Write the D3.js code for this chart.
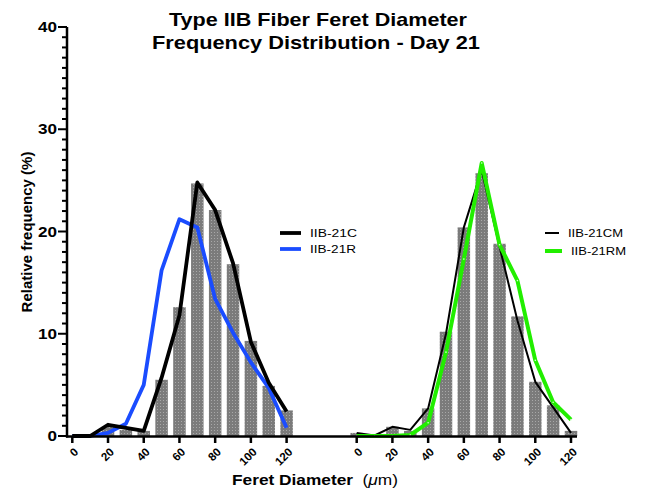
<!DOCTYPE html>
<html>
<head>
<meta charset="utf-8">
<script src="https://cdn.jsdelivr.net/npm/d3@7"></script>
<style>
body { margin:0; background:#fff; }
text { font-family: Arial, "Liberation Sans", sans-serif; }
</style>
</head>
<body>
<svg id="chart" width="649" height="488"></svg>
<script>
const bins = [0,10,20,30,40,50,60,70,80,90,100,110,120];
const xTicks = [0,20,40,60,80,100,120];
const yTicks = [0,10,20,30,40];

const barsLeft  = [0,0,0.9,0.6,0.5,5.5,12.6,24.7,22.1,16.8,9.3,4.9,2.5];
const line21C   = [0,0,1.1,0.8,0.5,5.7,11.8,24.8,22.1,16.9,9.2,5.2,2.4];
const line21R   = [0,0,0.3,1.2,5.0,16.2,21.2,20.4,13.4,10.1,7.2,4.7,0.8];

const barsRight = [0.3,0,0.9,0.5,2.7,10.2,20.4,25.7,18.8,11.7,5.3,3.0,0.5];
const line21CM  = [0.3,0.05,0.9,0.6,2.7,10.0,20.4,26.0,18.5,11.3,5.3,2.8,0.3];
const line21RM  = [0,0,0,0.1,1.3,8.2,17.3,26.7,18.7,15.2,7.4,3.3,1.6];

const svg = d3.select("#chart");
const y = d3.scaleLinear().domain([0,40]).range([436,27]);
const xL = d3.scaleLinear().domain([0,120]).range([72.3,286.6]);
const xR = d3.scaleLinear().domain([0,120]).range([356.7,571]);

const defs = svg.append("defs");
const pat = defs.append("pattern").attr("id","dots").attr("patternUnits","userSpaceOnUse")
  .attr("width",3).attr("height",3);
pat.append("rect").attr("width",3).attr("height",3).attr("fill","#7b7b7b");
pat.append("rect").attr("x",1).attr("y",1).attr("width",1).attr("height",1).attr("fill","#a8a8a8");

const bw = 12.5;
function drawBars(vals, xs) {
  svg.append("g").selectAll("rect").data(vals).join("rect")
    .attr("x",(d,i)=>xs(bins[i])-bw/2)
    .attr("y",d=>y(d))
    .attr("width",bw)
    .attr("height",d=>y(0)-y(d))
    .attr("fill","url(#dots)");
}
drawBars(barsLeft, xL);
drawBars(barsRight, xR);

function drawLine(vals, xs, color, w) {
  const line = d3.line().x((d,i)=>xs(bins[i])).y(d=>y(d));
  return svg.append("path").datum(vals).attr("d",line)
    .attr("fill","none").attr("stroke",color).attr("stroke-width",w)
    .attr("stroke-linejoin","round").attr("stroke-linecap","butt");
}
drawLine(line21R, xL, "#1a4cff", 3.8);
drawLine(line21C, xL, "#000", 3.8);
drawLine(line21CM, xR, "#000", 2);
drawLine(line21RM, xR, "#22ee00", 4);
svg.append("g").selectAll("circle").data(line21RM).join("circle")
  .attr("cx",(d,i)=>xR(bins[i])).attr("cy",d=>y(d)).attr("r",0.8).attr("fill","#d8ffd0");

// y axis
const yAx = svg.append("g").attr("transform","translate(67,0)");
yAx.append("line").attr("x1",0).attr("x2",0).attr("y1",y(40)).attr("y2",y(0)+1.5)
  .attr("stroke","#000").attr("stroke-width",2.5);
yAx.selectAll(".minor").data(d3.range(0,41)).join("line")
  .attr("x1",d=> d%10===0 ? -9 : -5).attr("x2",0)
  .attr("y1",d=>y(d)).attr("y2",d=>y(d))
  .attr("stroke","#000").attr("stroke-width",2);
yAx.selectAll("text").data(yTicks).join("text")
  .attr("x",-10).attr("y",d=>y(d)).attr("dy","0.36em")
  .attr("text-anchor","end").attr("font-size",14).attr("font-weight","bold")
  .attr("textLength",d=>String(d).length*9.5).attr("lengthAdjust","spacingAndGlyphs")
  .text(d=>d);

// x axis
svg.append("line").attr("x1",66).attr("x2",577).attr("y1",436.5).attr("y2",436.5)
  .attr("stroke","#000").attr("stroke-width",2.5);
function xAxisTicks(xs) {
  const g = svg.append("g");
  g.selectAll("line").data(xTicks).join("line")
    .attr("x1",d=>xs(d)).attr("x2",d=>xs(d)).attr("y1",436).attr("y2",443)
    .attr("stroke","#000").attr("stroke-width",2.5);
  g.selectAll("text").data(xTicks).join("text")
    .attr("transform",d=>`translate(${xs(d)+1},${447}) rotate(-45)`)
    .attr("text-anchor","end").attr("dy","0.7em")
    .attr("font-size",11.5).attr("font-weight","bold").text(d=>d);
}
xAxisTicks(xL);
xAxisTicks(xR);

// titles
svg.append("text").attr("x",318).attr("y",26).attr("text-anchor","middle")
  .attr("font-size",19).attr("font-weight","bold")
  .attr("textLength",298).attr("lengthAdjust","spacingAndGlyphs")
  .text("Type IIB Fiber Feret Diameter");
svg.append("text").attr("x",316).attr("y",49).attr("text-anchor","middle")
  .attr("font-size",19).attr("font-weight","bold")
  .attr("textLength",328).attr("lengthAdjust","spacingAndGlyphs")
  .text("Frequency Distribution - Day 21");

svg.append("text").attr("transform","translate(32,232) rotate(-90)").attr("text-anchor","middle")
  .attr("font-size",15).attr("font-weight","bold").text("Relative frequency (%)");

const xl = svg.append("text").attr("x",315).attr("y",485).attr("text-anchor","middle").attr("font-size",15.5)
  .attr("textLength",166).attr("lengthAdjust","spacingAndGlyphs");
xl.append("tspan").attr("font-weight","bold").text("Feret Diameter");
xl.append("tspan").text("\u00a0\u00a0(");
xl.append("tspan").attr("font-style","italic").text("\u03bc");
xl.append("tspan").text("m)");

// legends
function legend(x0, y0, label, color, w, len, tl) {
  svg.append("line").attr("x1",x0).attr("x2",x0+len).attr("y1",y0).attr("y2",y0)
    .attr("stroke",color).attr("stroke-width",w);
  svg.append("text").attr("x",x0+len+9).attr("y",y0).attr("dy","0.36em")
    .attr("font-size",11.5).attr("textLength",tl).attr("lengthAdjust","spacingAndGlyphs").text(label);
}
legend(280, 233, "IIB-21C", "#000", 3.8, 21, 47);
legend(280, 249, "IIB-21R", "#1a4cff", 3.8, 21, 46);
legend(545, 233, "IIB-21CM", "#000", 2, 14, 55);
legend(545, 251, "IIB-21RM", "#22ee00", 4, 17, 55);
</script>
</body>
</html>
